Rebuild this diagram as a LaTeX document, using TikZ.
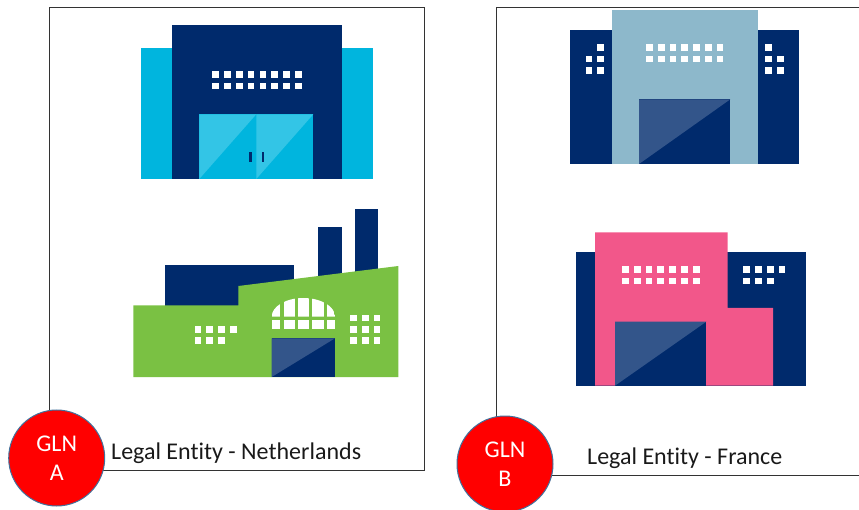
\documentclass[tikz,border=0pt]{standalone}
\usepackage{fontspec}
\setmainfont[Ligatures=NoCommon]{Carlito}
\definecolor{navy}{HTML}{002A6C}
\definecolor{navylight}{HTML}{33558A}
\definecolor{cyanb}{HTML}{00B5DE}
\definecolor{cyanlight}{HTML}{33C5E6}
\definecolor{paleblue}{HTML}{8DB8CB}
\definecolor{leaf}{HTML}{7AC143}
\definecolor{rose}{HTML}{F2578A}
\definecolor{glnedge}{HTML}{41719C}

\begin{document}
\begin{tikzpicture}[x=1pt, y=-1pt,
frame/.style={draw=black!80, line width=1pt},
gln/.style={circle, draw=glnedge, fill=red, line width=1pt, minimum size=96pt, inner sep=0pt, text=white, align=center, font=\fontsize{24}{29}\selectfont},
entity/.style={anchor=base west, inner sep=0pt, text=black!90, font=\fontsize{24}{28}\selectfont},
win/.style={fill=white}
]
\useasboundingbox (0,0) rectangle (859,510);
%Frames
\draw[frame] (49.7,8) rectangle (424.7,470.3);
\draw[frame] (859,8) -- (496.7,8) -- (496.7,475.3) -- (859,475.3);
%Warehouse
\fill[cyanb] (140.5,48) rectangle (372.7,179);
\fill[navy] (171.7,25.3) rectangle (341.7,179);
\fill[cyanb] (199.3,114.3) rectangle (313.3,179);
\fill[cyanlight] (199.3,179) -- (256.3,114.3) -- (199.3,114.3) -- cycle;
\fill[cyanlight] (256.3,179) -- (313.3,114.3) -- (256.3,114.3) -- cycle;
\fill[navy] (249,151.7) rectangle (251.7,161.7);
\fill[navy] (261.5,151.7) rectangle (264.2,161.7);
\foreach \i in {0,...,7}
  \foreach \y in {71.3,82.7}
    \fill[win] (212.3+\i*11.8,\y) rectangle +(6.7,6.7);
%Factory
\fill[navy] (165.3,264.7) rectangle (294,310);
\fill[navy] (318.3,227.3) rectangle (342.3,290);
\fill[navy] (355,209) rectangle (378.3,290);
\fill[leaf] (133.3,305.3) -- (238.3,305.3) -- (238.3,286) -- (398.3,266) -- (398.3,377) -- (133.3,377) -- cycle;
\fill[navy] (271.7,338.3) rectangle (335,377);
\fill[navylight] (271.7,377) -- (335,338.3) -- (271.7,338.3) -- cycle;
\begin{scope}
\clip (271.7,316.7) arc[start angle=180, end angle=360, x radius=31.7, y radius=18.7] -- cycle;
\foreach \x/\w in {271.7/8.3, 283.7/11.3, 298/11.3, 312.3/11.3, 327/8}
  \fill[win] (\x,295) rectangle +(\w,22);
\end{scope}
\foreach \x/\w in {271.7/8.3, 283.7/11.3, 298/11.3, 312.3/11.3, 327/8}
  \fill[win] (\x,320.3) rectangle +(\w,9);
\foreach \x/\y in {194.7/326, 206.3/326, 218.3/326, 230.3/326, 194.7/337.3, 206.3/337.3, 218.3/337.3}
  \fill[win] (\x,\y) rectangle +(6.7,6.7);
\foreach \x in {350.3,362,373.7}
  \foreach \y in {314.7,326,337.3}
    \fill[win] (\x,\y) rectangle +(6.7,6.7);
%Office
\fill[navy] (570,30.3) rectangle (799.3,164);
\fill[paleblue] (611.7,10.3) rectangle (757.7,164);
\fill[navy] (639,99.3) rectangle (730.3,164);
\fill[navylight] (639,164) -- (730.3,99.3) -- (639,99.3) -- cycle;
\foreach \i in {0,...,6}
  \foreach \y in {44.3,55.7}
    \fill[win] (646.3+\i*11.7,\y) rectangle +(6.7,6.7);
\foreach \x/\y in {597/44.3, 585.7/55.7, 597/55.7, 585.7/67, 597/67, 765.3/44.3, 765.3/55.7, 777.3/55.7, 765.3/67, 777.3/67}
  \fill[win] (\x,\y) rectangle +(6.7,6.7);
%Plant
\fill[navy] (576.3,252.3) rectangle (805.7,385.7);
\fill[rose] (595,232.3) -- (727.7,232.3) -- (727.7,308) -- (773,308) -- (773,385.7) -- (595,385.7) -- cycle;
\fill[navy] (615,321.7) rectangle (706.3,385.7);
\fill[navylight] (615,385.7) -- (706.3,321.7) -- (615,321.7) -- cycle;
\foreach \i in {0,...,6}
  \foreach \y in {266,277.6}
    \fill[win] (622+\i*11.8,\y) rectangle +(6.7,6.7);
\foreach \x/\y in {743.3/266, 755.3/266, 767/266, 778.7/266, 743.3/277.6, 755.3/277.6, 767/277.6}
  \fill[win] (\x,\y) rectangle +(6.7,6.7);
%Nodes
\node[gln] (glna) at (56.7,458) {GLN\\A};
\node[gln] (glnb) at (505,464) {GLN\\B};
\node[entity] (nl) at (111,459.7) {Legal Entity - Netherlands};
\node[entity] (fr) at (587,464.7) {Legal Entity - France};
\end{tikzpicture}
\end{document}
